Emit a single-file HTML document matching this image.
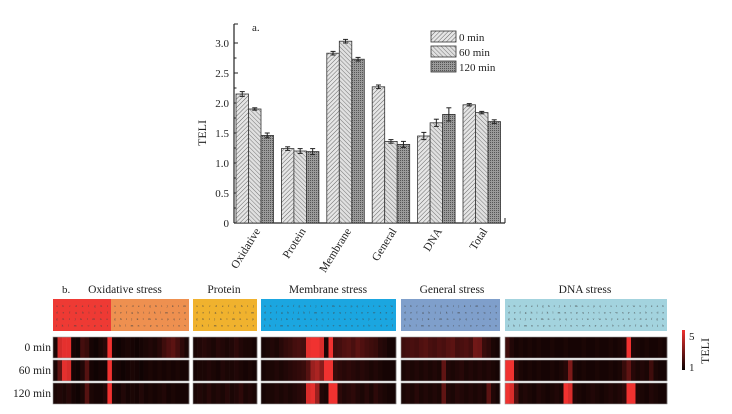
<!DOCTYPE html>
<html><head><meta charset="utf-8"><style>
body{margin:0;background:#fff;}
svg{display:block;font-family:"Liberation Serif",serif;}
</style></head><body>
<svg id="fig" width="732" height="414" viewBox="0 0 732 414" xmlns="http://www.w3.org/2000/svg">
<defs>
<pattern id="p0" patternUnits="userSpaceOnUse" width="3" height="3" patternTransform="rotate(45)"><rect width="3" height="3" fill="#e6e6e6"/><line x1="0" y1="0" x2="0" y2="3" stroke="#666" stroke-width="1"/></pattern>
<pattern id="p1" patternUnits="userSpaceOnUse" width="3" height="3" patternTransform="rotate(-45)"><rect width="3" height="3" fill="#e0e0e0"/><line x1="0" y1="0" x2="0" y2="3" stroke="#777" stroke-width="1"/></pattern>
<pattern id="p2" patternUnits="userSpaceOnUse" width="2" height="2"><rect width="2" height="2" fill="#9a9a9a"/><rect width="1" height="1" fill="#555"/></pattern>
</defs>
<g id="bars"></g>
<g id="heat"></g>
</svg>
<script>
const NS="http://www.w3.org/2000/svg";
function mk(p,t,a,txt){const e=document.createElementNS(NS,t);for(const k in a)e.setAttribute(k,a[k]);if(txt!==undefined)e.textContent=txt;p.appendChild(e);return e;}
// ---- bar chart data
const categories=["Oxidative","Protein","Membrane","General","DNA","Total"];
const seriesNames=["0 min","60 min","120 min"];
const vals0=[2.15,1.24,2.83,2.27,1.45,1.97];
const vals60=[1.90,1.20,3.03,1.36,1.67,1.84];
const vals120=[1.46,1.19,2.73,1.31,1.81,1.69];
const err0=[0.04,0.03,0.03,0.03,0.06,0.02];
const err60=[0.02,0.04,0.03,0.03,0.06,0.02];
const err120=[0.04,0.05,0.03,0.05,0.11,0.03];
const yTicks=[0,0.5,1.0,1.5,2.0,2.5,3.0];
const yTickLabels=["0","0.5","1.0","1.5","2.0","2.5","3.0"];
// ---- heatmap data
const blockNames=["Oxidative stress","Protein","Membrane stress","General stress","DNA stress"];
const oxid0=[1.3,4.5,4.8,4.8,1.2,1.1,2.0,1.8,1.2,1.1,1.3,1.5,5,1.2,1.1,1.2,1.3,1.2,1.1,1.2,1.3,1.4,1.3,1.5,1.9,2.2,2.4,2.0,1.6,1.3];
const oxid60=[1.3,2.5,4.8,4.6,1.2,1.1,1.4,2.3,1.2,1.1,1.2,1.2,5,1.3,1.2,1.1,1.2,1.3,1.2,1.1,1.2,1.3,1.2,1.3,1.2,1.3,1.2,1.3,1.2,1.2];
const oxid120=[1.3,1.4,1.3,1.5,1.2,1.1,1.3,2.3,1.3,1.2,1.2,1.4,5,1.3,1.2,1.4,1.2,1.3,1.2,1.4,1.2,1.3,1.2,1.3,1.4,1.2,1.3,1.2,1.2,1.2];
const prot0=[1.3,1.4,1.5,1.4,1.3,1.5,1.4,1.3,1.4,1.6,1.4,1.3,1.3,1.2];
const prot60=[1.2,1.3,1.3,1.4,1.3,1.2,1.4,1.3,1.3,1.4,1.3,1.2,1.3,1.2];
const prot120=[1.3,1.4,1.3,1.5,1.3,1.4,1.3,1.5,1.3,1.4,1.6,1.3,1.4,1.3];
const memb0=[1.2,1.3,1.4,1.3,1.5,1.7,1.8,2.0,2.1,2.0,4.8,5,5,4.6,1.3,5,1.9,2.0,2.2,2.3,2.1,2.4,2.2,2.0,1.9,1.8,1.5,1.4,1.2,1.2];
const memb60=[1.2,1.3,1.3,1.4,1.3,1.4,1.5,1.6,1.7,1.8,2.3,3.5,3.8,3.2,5,5,1.8,1.6,1.5,1.6,1.5,1.4,1.5,1.4,1.3,1.4,1.3,1.2,1.2,1.2];
const memb120=[1.2,1.3,1.3,1.4,1.3,1.4,1.3,1.4,1.5,1.6,4.6,4.8,3.5,1.4,1.3,5,5,1.6,1.4,1.5,1.6,1.4,1.3,1.5,1.3,1.6,1.4,1.3,1.2,1.2];
const gen0=[1.9,2.0,2.1,2.0,2.2,2.3,2.1,2.0,2.2,2.1,2.3,2.4,2.0,2.1,2.2,2.0,2.8,2.7,1.8,1.6,1.3,1.2];
const gen60=[1.3,1.4,1.3,1.4,1.3,1.4,1.3,1.4,1.3,2.5,1.4,1.3,1.4,1.5,1.3,1.4,1.3,1.4,1.3,1.4,1.3,1.2];
const gen120=[1.3,1.4,1.3,1.5,1.3,1.4,1.3,1.4,1.3,2.5,1.4,1.3,1.5,1.4,1.3,1.4,1.3,1.4,1.3,2.4,1.4,1.2];
const dna0=[1.9,1.4,1.2,1.3,1.2,1.3,1.2,1.3,1.2,1.2,1.3,1.2,1.2,1.3,1.2,1.2,1.2,1.3,1.2,1.2,1.3,1.2,1.2,1.3,1.2,1.3,1.4,5,1.4,1.3,1.2,1.3,1.2,1.2,1.3,1.2];
const dna60=[5,5,1.6,1.3,1.2,1.3,1.2,1.3,1.2,1.2,1.3,1.2,1.3,1.5,3.0,1.3,1.2,1.3,1.2,1.2,1.3,1.2,1.2,1.3,1.2,1.3,1.8,2.5,1.5,1.3,1.4,1.3,1.9,1.3,1.2,1.2];
const dna120=[5,4.6,2.2,1.3,1.4,1.3,1.2,1.4,1.3,1.2,1.3,1.4,1.3,5,4.6,1.4,1.3,1.2,1.3,1.4,1.3,1.2,1.3,1.4,1.3,1.4,1.6,5,5,1.4,1.3,1.2,1.4,1.3,1.2,1.2];
const rowNames=["0 min","60 min","120 min"];
const colorbarTicks=["5","1"];

// ---- bar chart drawing
const B=document.getElementById("bars");
const X0=234,Y0=223,PU=60,GW=45.4,BW=12.5,G0=236;
const yS=v=>Y0-v*PU;
const xS=(g,s)=>G0+g*GW+s*BW;
mk(B,"line",{x1:X0,y1:24,x2:X0,y2:Y0,stroke:"#222","stroke-width":1.2,});
mk(B,"line",{x1:X0,y1:Y0,x2:505,y2:Y0,stroke:"#222","stroke-width":1.2,});
mk(B,"line",{x1:505,y1:Y0,x2:505,y2:218,stroke:"#222","stroke-width":1});
mk(B,"line",{x1:X0,y1:24,x2:X0+4,y2:24,stroke:"#222","stroke-width":1});
yTicks.forEach((t,i)=>{
  mk(B,"line",{x1:X0,y1:yS(t),x2:X0+4,y2:yS(t),stroke:"#222"});
  if(i<yTicks.length-1) mk(B,"line",{x1:X0,y1:yS(t+0.25),x2:X0+2.5,y2:yS(t+0.25),stroke:"#222"});
  const e=mk(B,"text",{x:X0-5,y:yS(t)+4,"text-anchor":"end","font-size":11,fill:"#222"},yTickLabels[i]);
  
  
});
mk(B,"text",{x:206,y:133,"text-anchor":"middle","font-size":12,fill:"#222",transform:"rotate(-90 206 133)",},"TELI");
mk(B,"text",{x:252,y:31,"font-size":11,fill:"#222",},"a.");
const series=[vals0,vals60,vals120],errs=[err0,err60,err120],fills=["url(#p0)","url(#p1)","url(#p2)"];
categories.forEach((c,g)=>{
  series.forEach((arr,s)=>{
    const x=xS(g,s),v=arr[g],e=errs[s][g];
    const r=mk(B,"rect",{x:x,y:yS(v),width:BW,height:Y0-yS(v),fill:fills[s],stroke:"#333","stroke-width":0.8});
    
    
    const cx=x+BW/2;
    mk(B,"line",{x1:cx,y1:yS(v+e),x2:cx,y2:yS(v-e),stroke:"#222"});
    mk(B,"line",{x1:cx-2.5,y1:yS(v+e),x2:cx+2.5,y2:yS(v+e),stroke:"#222"});
    mk(B,"line",{x1:cx-2.5,y1:yS(v-e),x2:cx+2.5,y2:yS(v-e),stroke:"#222"});
  });
  const lx=xS(g,1)+BW/2+6,ly=Y0+8;
  const t=mk(B,"text",{x:lx,y:ly,"text-anchor":"end","font-size":11.5,fill:"#222",transform:"rotate(-58 "+lx+" "+ly+")"},c);
  
  
});
seriesNames.forEach((n,s)=>{
  const y=31+s*15;
  const r=mk(B,"rect",{x:431,y:y,width:25,height:11,fill:fills[s],stroke:"#333","stroke-width":0.8});
  
  
  const t=mk(B,"text",{x:459,y:y+10,"font-size":11,fill:"#222"},n);
  
  
});

// ---- heatmap drawing
const H=document.getElementById("heat");
const blocks=[
 {x:53,w:136,rows:[oxid0,oxid60,oxid120],hdr:[["#ee3a34",53,58],["#ee9050",111,78]],lbl:125},
 {x:193,w:64,rows:[prot0,prot60,prot120],hdr:[["#f0b22e",193,64]],lbl:224},
 {x:261,w:135,rows:[memb0,memb60,memb120],hdr:[["#1ba6e0",261,135]],lbl:328},
 {x:401,w:99,rows:[gen0,gen60,gen120],hdr:[["#7f9fcb",401,99]],lbl:452},
 {x:505,w:162,rows:[dna0,dna60,dna120],hdr:[["#a3d3de",505,162]],lbl:585}];
const rowY=[337,360,383],rowH=21;
const col=v=>{const f=Math.max(0,Math.min(1,(v-1)/4));return "rgb("+Math.round(10+230*f)+","+Math.round(2+48*f)+","+Math.round(2+46*f)+")";};
const letters="abcdefghijklmnopqrstuvwxyzabcdefghijklmnopqrstuvwxyz";
mk(H,"text",{x:62,y:293,"font-size":11,fill:"#222",},"b.");
blocks.forEach((b,bi)=>{
  const t=mk(H,"text",{x:b.lbl,y:293,"text-anchor":"middle","font-size":11.5,fill:"#222"},blockNames[bi]);
  
  
  b.hdr.forEach(h=>{
    const r=mk(H,"rect",{x:h[1],y:299,width:h[2],height:32,fill:h[0]});
    
    
    const n=Math.max(4,Math.floor((h[2]-6)/5.5));
    for(let k=0;k<4;k++){
      mk(H,"text",{x:h[1]+3,y:307+k*6.5,"font-size":3.5,fill:"#444",textLength:h[2]-6,lengthAdjust:"spacing"},letters.substr(k*3,n));
    }
  });
  b.rows.forEach((arr,ri)=>{
    const cw=b.w/arr.length;
    arr.forEach((v,ci)=>{
      const r=mk(H,"rect",{x:b.x+ci*cw,y:rowY[ri],width:cw+0.3,height:rowH,fill:col(v)});
      
      
    });
    mk(H,"rect",{x:b.x,y:rowY[ri],width:b.w,height:rowH,fill:"none",stroke:"#999","stroke-width":0.6});
  });
});
rowNames.forEach((n,i)=>{
  const t=mk(H,"text",{x:51,y:rowY[i]+14,"text-anchor":"end","font-size":11.5,fill:"#222"},n);
  
  
});
const lg=mk(H,"linearGradient",{id:"cb",x1:0,y1:0,x2:0,y2:1});
mk(lg,"stop",{offset:0,"stop-color":col(5)});mk(lg,"stop",{offset:1,"stop-color":col(1)});
mk(H,"rect",{x:682,y:330,width:3,height:40,fill:"url(#cb)",});
mk(H,"text",{x:689,y:340,"font-size":11,fill:"#222",},colorbarTicks[0]);
mk(H,"text",{x:689,y:371,"font-size":11,fill:"#222",},colorbarTicks[1]);
mk(H,"text",{x:709,y:351,"text-anchor":"middle","font-size":12,fill:"#222",transform:"rotate(-90 709 351)",},"TELI");
</script>
</body></html>
